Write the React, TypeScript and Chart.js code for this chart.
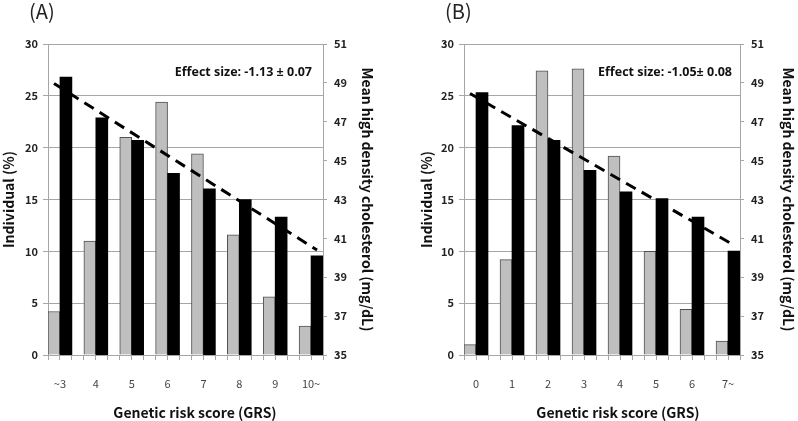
import React, { useEffect, useRef } from 'react';
import { Chart, registerables } from 'chart.js';

Chart.register(...registerables);

// ---------- data ----------
const categoriesA = ['~3', '4', '5', '6', '7', '8', '9', '10~'];
const individualA = [4.2, 11.0, 21.0, 24.4, 19.4, 11.6, 5.6, 2.8];
const hdlA = [49.3, 47.2, 46.05, 44.35, 43.55, 43.0, 42.1, 40.1];
const trendA = [48.97, 40.4]; // dashed trend line at first and last GRS group
const effectA = 'Effect size: -1.13 ± 0.07';

const categoriesB = ['0', '1', '2', '3', '4', '5', '6', '7~'];
const individualB = [1.0, 9.2, 27.4, 27.6, 19.2, 10.0, 4.4, 1.35];
const hdlB = [48.5, 46.8, 46.05, 44.5, 43.4, 43.05, 42.1, 40.35];
const trendB = [48.45, 40.65];
const effectB = 'Effect size: -1.05± 0.08';

const leftTickValues = [0, 5, 10, 15, 20, 25, 30];
const rightTickValues = [35, 37, 39, 41, 43, 45, 47, 49, 51];

const xTitle = 'Genetic risk score (GRS)';
const leftTitle = 'Individual (%)';
const rightTitle = 'Mean high density cholesterol (mg/dL)';

// ---------- helpers ----------
const GROUP = 3; // grey slot, black slot, empty slot
const FONT = "'Noto Sans CJK KR', 'Noto Sans', sans-serif";
const EFFECT_FONT = "'Open Sans', 'Noto Sans', sans-serif";
const GRID = '#a6a6a6';

function slotCount(n: number) {
  return n * GROUP - 1;
}
function toSlots(vals: number[], offset: number) {
  const arr: (number | null)[] = new Array(slotCount(vals.length)).fill(null);
  vals.forEach((v, i) => {
    arr[i * GROUP + offset] = v;
  });
  return arr;
}
function slotLabels(cats: string[]) {
  const arr: string[] = new Array(slotCount(cats.length)).fill('');
  cats.forEach((c, i) => {
    arr[i * GROUP] = c;
  });
  return arr;
}
function trendSlots(n: number, trend: number[]) {
  const arr: (number | null)[] = new Array(slotCount(n)).fill(null);
  arr[0] = trend[0];
  arr[arr.length - 1] = trend[1];
  return arr;
}

type PanelOpts = {
  label: string;
  categories: string[];
  individual: number[];
  hdl: number[];
  trend: number[];
  effect: string;
  leftW: number;
  rightW: number;
  leftTitlePad: number;
  rightTitlePad: number;
  xTitleX: number;
  effectRight: number;
  labelX: number;
};

function makeConfig(p: PanelOpts): any {
  const textPlugin = {
    id: 'panelTexts',
    afterDraw(chart: any) {
      const ctx = chart.ctx;
      const items = [
        { text: p.label, x: p.labelX, y: 11, font: `20px ${FONT}`, align: 'left', color: '#222' },
        { text: p.effect, x: p.effectRight, y: 72, font: `bold 12.5px ${EFFECT_FONT}`, align: 'right', color: '#111' },
        { text: xTitle, x: p.xTitleX, y: 413, font: `bold 14px ${FONT}`, align: 'center', color: '#111' },
      ];
      items.forEach((it) => {
        ctx.save();
        ctx.font = it.font;
        ctx.fillStyle = it.color;
        ctx.textAlign = it.align;
        ctx.textBaseline = 'middle';
        ctx.fillText(it.text, it.x, it.y);
        ctx.restore();
      });
    },
  };

  return {
    type: 'bar',
    data: {
      labels: slotLabels(p.categories),
      datasets: [
        {
          type: 'line',
          label: 'trend',
          data: trendSlots(p.categories.length, p.trend),
          yAxisID: 'yR',
          borderColor: '#000',
          borderWidth: 3,
          borderDash: [11, 7],
          pointRadius: 0,
          spanGaps: true,
          fill: false,
          order: 0,
        },
        {
          label: 'Individual (%)',
          data: toSlots(p.individual, 0),
          yAxisID: 'yL',
          backgroundColor: '#bfbfbf',
          borderColor: '#505050',
          borderWidth: 1,
          grouped: false,
          barPercentage: 1,
          categoryPercentage: 1,
          order: 2,
        },
        {
          label: 'Mean HDL',
          data: toSlots(p.hdl, 1),
          yAxisID: 'yR',
          backgroundColor: '#000',
          borderColor: '#000',
          borderWidth: 0,
          grouped: false,
          barPercentage: 1,
          categoryPercentage: 1,
          order: 1,
        },
      ],
    },
    options: {
      responsive: false,
      animation: false,
      layout: { padding: { top: 44, left: 0, right: 0, bottom: 0 } },
      plugins: { legend: { display: false }, tooltip: { enabled: false } },
      scales: {
        x: {
          type: 'category',
          offset: true,
          grid: { offset: true, drawOnChartArea: false, drawTicks: true, tickLength: 5, color: GRID },
          border: { color: GRID },
          ticks: {
            autoSkip: false,
            maxRotation: 0,
            minRotation: 0,
            padding: 17,
            labelOffset: 6,
            color: '#444',
            font: { family: FONT, size: 11 },
          },
          afterFit: (s: any) => {
            s.height = 66;
          },
        },
        yL: {
          position: 'left',
          min: 0,
          max: 30,
          afterBuildTicks: (s: any) => {
            s.ticks = leftTickValues.map((v) => ({ value: v }));
          },
          grid: { color: GRID, tickLength: 5 },
          border: { color: GRID },
          ticks: { color: '#222', padding: 5, font: { family: FONT, size: 11, weight: 'bold' } },
          title: {
            display: true,
            text: leftTitle,
            color: '#111',
            font: { family: FONT, size: 14, weight: 'bold' },
            padding: { top: p.leftTitlePad, bottom: 0 },
          },
          afterFit: (s: any) => {
            s.width = p.leftW;
          },
        },
        yR: {
          position: 'right',
          min: 35,
          max: 51,
          afterBuildTicks: (s: any) => {
            s.ticks = rightTickValues.map((v) => ({ value: v }));
          },
          grid: { drawOnChartArea: false, color: GRID, tickLength: 4 },
          border: { color: GRID },
          ticks: { color: '#222', padding: 7, font: { family: FONT, size: 11, weight: 'bold' } },
          title: {
            display: true,
            text: rightTitle,
            color: '#111',
            font: { family: FONT, size: 14, weight: 'bold' },
            padding: { top: p.rightTitlePad, bottom: 0 },
          },
          afterFit: (s: any) => {
            s.width = p.rightW;
          },
        },
      },
    },
    plugins: [textPlugin],
  };
}

function Panel({ opts, left }: { opts: PanelOpts; left: number }) {
  const ref = useRef<HTMLCanvasElement | null>(null);
  useEffect(() => {
    if (!ref.current) return;
    const chart = new Chart(ref.current, makeConfig(opts));
    return () => chart.destroy();
  }, []);
  return (
    <canvas
      ref={ref}
      width={399}
      height={421}
      style={{ position: 'absolute', left, top: 0, width: 399, height: 421 }}
    />
  );
}

const panelA: PanelOpts = {
  label: '(A)',
  categories: categoriesA,
  individual: individualA,
  hdl: hdlA,
  trend: trendA,
  effect: effectA,
  leftW: 48,
  rightW: 76,
  leftTitlePad: 0,
  rightTitlePad: 23,
  xTitleX: 195,
  effectRight: 312,
  labelX: 29,
};

const panelB: PanelOpts = {
  label: '(B)',
  categories: categoriesB,
  individual: individualB,
  hdl: hdlB,
  trend: trendB,
  effect: effectB,
  leftW: 65,
  rightW: 58,
  leftTitlePad: 19,
  rightTitlePad: 1,
  xTitleX: 219,
  effectRight: 333,
  labelX: 46,
};

export default function App() {
  return (
    <div style={{ position: 'absolute', left: 0, top: 0, width: 798, height: 421, background: '#fff', overflow: 'hidden' }}>
      <Panel opts={panelA} left={0} />
      <Panel opts={panelB} left={399} />
    </div>
  );
}
